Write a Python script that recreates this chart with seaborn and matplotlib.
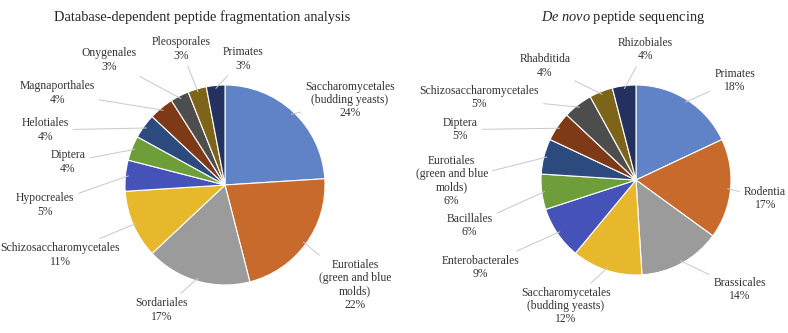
import numpy as np
import seaborn as sns
import matplotlib.pyplot as plt

# left pie: database-dependent search
db_labels = ["Saccharomycetales\n(budding yeasts)", "Eurotiales\n(green and blue\nmolds)", "Sordariales",
             "Schizosaccharomycetales", "Hypocreales", "Diptera", "Helotiales", "Magnaporthales",
             "Onygenales", "Pleosporales", "Primates"]
db_values = [24, 22, 17, 11, 5, 4, 4, 4, 3, 3, 3]

# right pie: de novo sequencing
dn_labels = ["Primates", "Rodentia", "Brassicales", "Saccharomycetales\n(budding yeasts)",
             "Enterobacterales", "Bacillales", "Eurotiales\n(green and blue\nmolds)", "Diptera",
             "Schizosaccharomycetales", "Rhabditida", "Rhizobiales"]
dn_values = [18, 17, 14, 12, 9, 6, 6, 5, 5, 4, 4]

colors = ["#6083C8", "#C86A2C", "#9B9B9B", "#E8B82C", "#4552B8", "#6E9E3A",
          "#2D4A7E", "#7E3A17", "#4D4D4D", "#7E6418", "#24305E"]

# label placement (in pie-radius units), like excel's "best fit"
db_label_pos = [(1.25, 0.85), (1.30, -1.0), (-0.63, -1.25), (-1.65, -0.70), (-1.8, -0.2),
                (-1.57, 0.23), (-1.8, 0.55), (-1.68, 0.92), (-1.16, 1.25), (-0.44, 1.36), (0.18, 1.26)]
dn_label_pos = [(1.04, 1.05), (1.36, -0.19), (1.09, -1.15), (-0.74, -1.33), (-1.64, -0.92),
                (-1.75, -0.48), (-1.94, -0.01), (-1.85, 0.53), (-1.65, 0.87), (-0.96, 1.2), (0.1, 1.37)]

sns.set_theme(style="white")
plt.rcParams["font.family"] = ["Liberation Serif", "DejaVu Serif"]
plt.rcParams["mathtext.fontset"] = "custom"
plt.rcParams["mathtext.it"] = "Liberation Serif:italic"
plt.rcParams["mathtext.rm"] = "Liberation Serif"

W, H = 788, 333
fig = plt.figure(figsize=(W / 100, H / 100), dpi=100)
pal = sns.color_palette(colors)


def draw_pie(cx, cy, r, values, labels, label_pos):
    ax = fig.add_axes([(cx - r) / W, (H - cy - r) / H, 2 * r / W, 2 * r / H])
    wedges, _ = ax.pie(values, colors=pal, startangle=90, counterclock=False, radius=1,
                       wedgeprops=dict(edgecolor="white", linewidth=0.8))
    ax.set_xlim(-1, 1)
    ax.set_ylim(-1, 1)
    ax.set_aspect("equal")
    ax.axis("off")
    total = sum(values)
    for w, lab, v, (lx, ly) in zip(wedges, labels, values, label_pos):
        ang = np.deg2rad((w.theta1 + w.theta2) / 2)
        ax.annotate(f"{lab}\n{round(100 * v / total)}%", xy=(0.97 * np.cos(ang), 0.97 * np.sin(ang)),
                    xytext=(lx, ly), ha="center", va="center", multialignment="center",
                    fontsize=8.4, color="#333333", linespacing=1.12, annotation_clip=False,
                    arrowprops=dict(arrowstyle="-", color="#C8C8C8", lw=0.7, shrinkA=1, shrinkB=0))
    return ax


draw_pie(225, 185, 100, db_values, db_labels, db_label_pos)
draw_pie(636, 180, 95, dn_values, dn_labels, dn_label_pos)

fig.text(202 / W, 1 - 17 / H, "Database-dependent peptide fragmentation analysis",
         ha="center", va="center", fontsize=10.4, color="#262626")
fig.text(623 / W, 1 - 17 / H, r"$\it{De\ novo}$ peptide sequencing",
         ha="center", va="center", fontsize=10.4, color="#262626")

fig.savefig("out.png", dpi=100)
